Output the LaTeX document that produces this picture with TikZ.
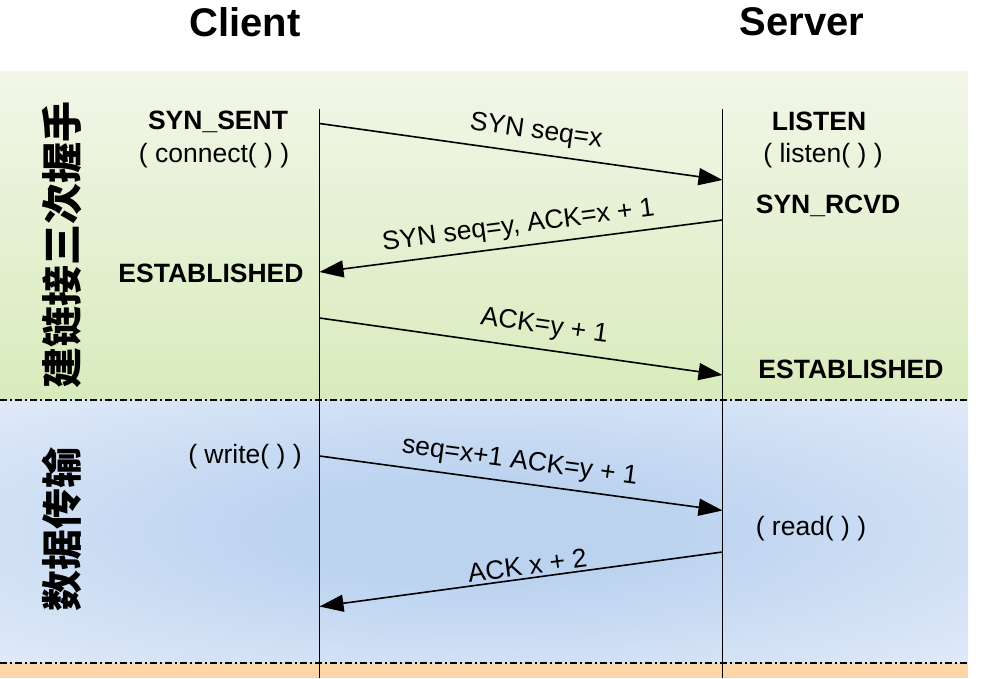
\documentclass[tikz,border=0pt]{standalone}
\usepackage{fontspec}
\setmainfont{Liberation Sans}
\newfontfamily\cjk{Noto Sans CJK SC}
\usetikzlibrary{arrows.meta}
\definecolor{gtop}{RGB}{242,246,232}
\definecolor{gbot}{RGB}{216,235,188}
\definecolor{bcenter}{RGB}{188,211,240}
\definecolor{bedge}{RGB}{228,236,249}
\definecolor{orangeband}{RGB}{253,214,168}
\pgfdeclareradialshading{bluerad}{\pgfpoint{0bp}{0bp}}{color(0bp)=(bcenter); color(10bp)=(bcenter); color(38bp)=(bedge); color(50bp)=(bedge)}
\begin{document}
\begin{tikzpicture}[x=1pt,y=1pt,
  txt/.style={font=\fontsize{26.5}{30}\selectfont, inner sep=0pt},
  state/.style={font=\fontsize{26.5}{30}\selectfont\bfseries, inner sep=0pt},
  title/.style={font=\fontsize{40}{46}\selectfont\bfseries, inner sep=0pt},
  vlabel/.style={font=\fontsize{41}{44}\selectfont\cjk\bfseries, rotate=90, inner sep=0pt},
  msg/.style={line width=1.6pt, -{Triangle[length=24pt,width=17pt]}},
  msglbl/.style={font=\fontsize{26.5}{30}\selectfont, sloped, inner sep=0pt, text depth=0pt, above=#1},
  life/.style={line width=1.6pt},
  sep/.style={line width=2pt, dash pattern=on 7pt off 3pt on 2pt off 3pt}
]
% y coordinates are 678 - (pixel row)
\useasboundingbox (0,0) rectangle (1006,678);
% bands
\shade[top color=gtop, bottom color=gbot] (0,606) rectangle (968,278);
\shade[shading=bluerad] (0,278) rectangle (968,15);
\fill[orangeband] (0,15) rectangle (968,0);
\draw[sep] (0,278) -- (968,278);
\draw[sep] (0,15) -- (968,15);

% titles
\node[title] (client) at (245,656) {Client};
\node[title] (server) at (802,656) {Server};

% lifelines
\coordinate (ctop) at (319.5,569);
\coordinate (cbot) at (319.5,0);
\coordinate (stop) at (722.5,569);
\coordinate (sbot) at (722.5,0);
\draw[life] (ctop) -- (cbot);
\draw[life] (stop) -- (sbot);

% vertical phase labels
\node[vlabel] (hs) at (62,433) {建链接三次握手};
\node[vlabel] (dt) at (62,149) {数据传输};

% states
\node[state, anchor=base] (synsent) at (218,548) {SYN\_SENT};
\node[txt, anchor=base] (connect) at (214,515) {( connect( ) )};
\node[state, anchor=base] (estc) at (211,395) {ESTABLISHED};
\node[txt, anchor=base] (write) at (245,215) {( write( ) )};
\node[state, anchor=base] (listen) at (819,547) {LISTEN};
\node[txt, anchor=base] (listenf) at (823,515) {( listen( ) )};
\node[state, anchor=base] (synrcvd) at (828,464) {SYN\_RCVD};
\node[state, anchor=base] (ests) at (851,299) {ESTABLISHED};
\node[txt, anchor=base] (read) at (811,143) {( read( ) )};

% message endpoints
\coordinate (c1) at (319.5,554.5);
\coordinate (s1) at (722.5,498);
\coordinate (s2) at (722.5,458);
\coordinate (c2) at (319.5,406);
\coordinate (c3) at (319.5,360);
\coordinate (s3) at (722.5,303);
\coordinate (c4) at (319.5,222);
\coordinate (s4) at (722.5,167.5);
\coordinate (s5) at (722.5,126);
\coordinate (c5) at (319.5,71.5);

\draw[msg] (c1) -- (s1);
\path (c1) -- (s1) node[msglbl=15pt, pos=0.53] (l1) {SYN seq=x};
\draw[msg] (s2) -- (c2);
\path (c2) -- (s2) node[msglbl=13pt, pos=0.50] (l2) {SYN seq=y, ACK=x + 1};
\draw[msg] (c3) -- (s3);
\path (c3) -- (s3) node[msglbl=16pt, pos=0.55] (l3) {ACK=y + 1};
\draw[msg] (c4) -- (s4);
\path (c4) -- (s4) node[msglbl=14pt, pos=0.49] (l4) {seq=x+1 ACK=y + 1};
\draw[msg] (s5) -- (c5);
\path (c5) -- (s5) node[msglbl=3.5pt, pos=0.52] (l5) {ACK x + 2};
\end{tikzpicture}
\end{document}
